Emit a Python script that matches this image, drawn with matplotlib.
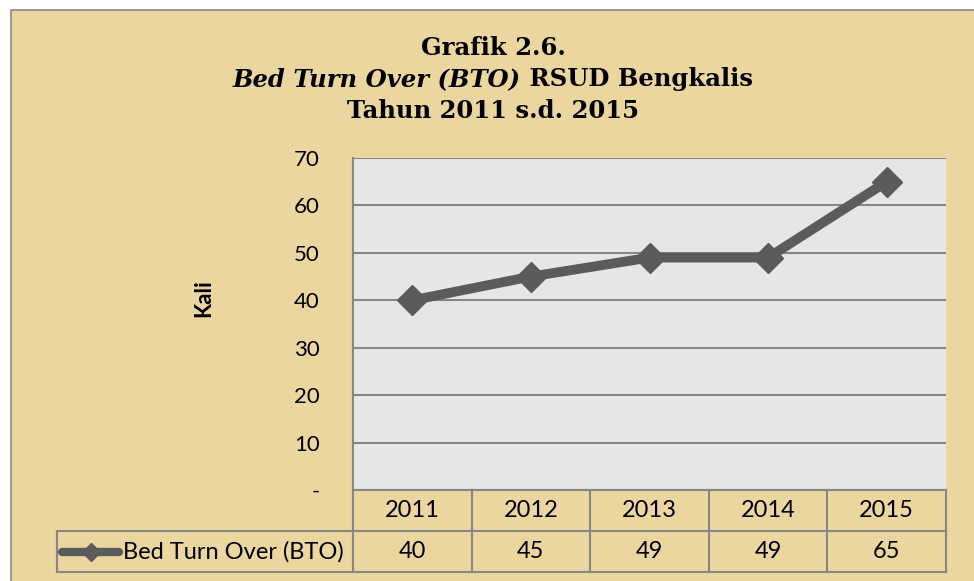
import matplotlib
matplotlib.use('Agg')
import matplotlib.pyplot as plt
from matplotlib.patches import Rectangle

# data
years = ['2011', '2012', '2013', '2014', '2015']
bto = [40, 45, 49, 49, 65]
series_name = 'Bed Turn Over (BTO)'
y_ticks = [0, 10, 20, 30, 40, 50, 60, 70]
y_ticklabels = ['-', '10', '20', '30', '40', '50', '60', '70']

W, H = 974, 581
paper = '#ECD69F'
grid_col = '#878787'
line_col = '#5B5B5B'
sans = 'Lato'
serif = 'DejaVu Serif'

fig = plt.figure(figsize=(W / 100, H / 100), dpi=100)
fig.patch.set_facecolor('white')

# parchment panel with grey frame (right/bottom run off the image)
fig.patches.append(Rectangle((11 / W, -0.05), 1, 1.05 - 10 / H, transform=fig.transFigure,
                             facecolor=paper, edgecolor='#8A8A8A', lw=1.2, zorder=-5))

def px(x0, y0, x1, y1):
    return [x0 / W, 1 - y1 / H, (x1 - x0) / W, (y1 - y0) / H]

# plot area
ax = fig.add_axes(px(353, 158, 946, 490))
ax.set_facecolor('#E6E6E6')
x = list(range(len(years)))
ax.plot(x, bto, color=line_col, lw=7, marker='D', ms=15, solid_joinstyle='miter', zorder=3)
ax.set_xlim(-0.5, len(years) - 0.5)
ax.set_ylim(0, 70)
ax.set_yticks(y_ticks)
ax.set_yticklabels(y_ticklabels, fontsize=16, fontfamily=sans)
ax.set_xticks([])
ax.tick_params(axis='y', length=0, pad=24)
ax.yaxis.grid(True, color=grid_col, lw=1.5)
ax.set_axisbelow(True)
for s in ['top', 'right', 'bottom']:
    ax.spines[s].set_visible(False)
ax.spines['left'].set_color(grid_col)
ax.spines['left'].set_linewidth(1.5)

fig.text(204 / W, 1 - 298 / H, 'Kali', rotation=90, ha='center', va='center',
         fontsize=16, fontweight='bold', fontfamily=sans)

# data table under the plot
tab = fig.add_axes(px(353, 490, 946, 572))
tab.set_xlim(-0.5, len(years) - 0.5)
tab.set_ylim(0, 2)
tab.axis('off')
n = len(years)
for i in range(n + 1):
    tab.plot([i - 0.5, i - 0.5], [0, 2], color=grid_col, lw=1.5, clip_on=False)
tab.plot([-0.5, n - 0.5], [2, 2], color=grid_col, lw=1.5, clip_on=False)
for i, (yr, v) in enumerate(zip(years, bto)):
    tab.text(i, 1.5, yr, ha='center', va='center', fontsize=17, fontfamily=sans)
    tab.text(i, 0.5, str(v), ha='center', va='center', fontsize=17, fontfamily=sans)

# legend row spans further left
leg = fig.add_axes(px(57, 531, 946, 572))
leg.set_xlim(0, 1)
leg.set_ylim(0, 1)
leg.axis('off')
leg.plot([0, 1], [1, 1], color=grid_col, lw=1.5, clip_on=False)
leg.plot([0, 1], [0, 0], color=grid_col, lw=1.5, clip_on=False)
leg.plot([0, 0], [0, 1], color=grid_col, lw=1.5, clip_on=False)
k0, k1 = 5 / 889, 62 / 889
leg.plot([k0, k1], [0.5, 0.5], color=line_col, lw=6, solid_capstyle='round', clip_on=False)
leg.plot([(k0 + k1) / 2], [0.5], marker='D', ms=9, color=line_col, clip_on=False)
leg.text(66 / 889, 0.5, series_name, ha='left', va='center', fontsize=17, fontfamily=sans)

# title
cx = 493 / W
tsize = 17.5
fig.text(cx, 1 - 55 / H, 'Grafik 2.6.', ha='center', va='baseline',
         fontsize=tsize, fontweight='bold', fontfamily=serif)
fig.text(cx, 1 - 118 / H, 'Tahun 2011 s.d. 2015', ha='center', va='baseline',
         fontsize=tsize, fontweight='bold', fontfamily=serif)
ta = fig.text(0, 1 - 86 / H, 'Bed Turn Over (BTO)', ha='left', va='baseline',
              fontsize=tsize, fontweight='bold', fontstyle='italic', fontfamily=serif)
tb = fig.text(0, 1 - 86 / H, ' RSUD Bengkalis', ha='left', va='baseline',
              fontsize=tsize, fontweight='bold', fontfamily=serif)
r = fig.canvas.get_renderer()
wa = ta.get_window_extent(r).width
wb = tb.get_window_extent(r).width
start = cx * W - (wa + wb) / 2
ta.set_x(start / W)
tb.set_x((start + wa) / W)

fig.savefig('out.png', dpi=100)
